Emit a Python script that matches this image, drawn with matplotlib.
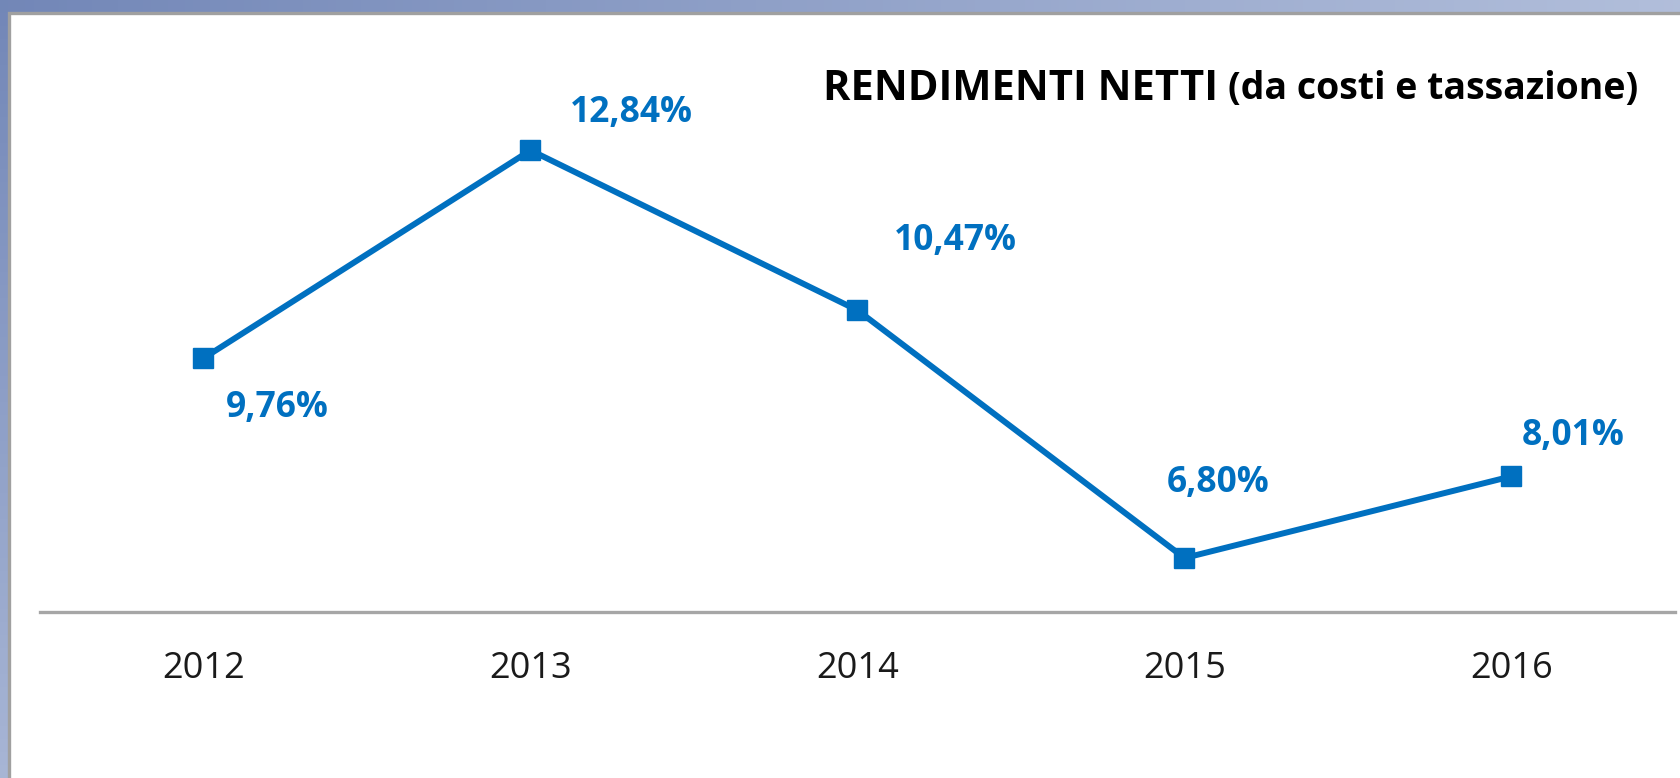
import numpy as np
import matplotlib
matplotlib.use("Agg")
import matplotlib.pyplot as plt
from matplotlib.patches import Rectangle

years = ["2012", "2013", "2014", "2015", "2016"]
returns = [9.76, 12.84, 10.47, 6.80, 8.01]
labels = ["9,76%", "12,84%", "10,47%", "6,80%", "8,01%"]
title_bold = "RENDIMENTI NETTI"
title_rest = "(da costi e tassazione)"

# label offsets in pixels (left edge of text, vertical centre) relative to the point
label_offsets = [(22, -50), (39, 37), (36, 69), (-18, 75), (10, 40)]

W, H = 1681, 778
fig = plt.figure(figsize=(W / 100, H / 100), dpi=100)

# background gradient strip (blue) behind the white panel
bg = fig.add_axes([0, 0, 1, 1])
gx = np.linspace(0, 1, 200)
gy = np.linspace(0, 1, 60)
X, Y = np.meshgrid(gx, gy)
c1 = np.array([0.45, 0.53, 0.72])
c2 = np.array([0.86, 0.89, 0.95])
t = np.clip(0.6 * X + 0.5 * Y, 0, 1)[..., None]
img = c1 * (1 - t) + c2 * t
bg.imshow(img, aspect="auto", extent=[0, 1, 0, 1], origin="upper")
bg.set_xlim(0, 1)
bg.set_ylim(0, 1)
bg.axis("off")

# white panel with grey border
px0 = 9 / W
ph = (H - 13) / H
bg.add_patch(Rectangle((px0, -0.01), 1.0, ph + 0.01, facecolor="white",
                       edgecolor="#a0a0a0", linewidth=2.4, zorder=3,
                       transform=bg.transAxes))

ax = fig.add_axes([40 / W, (H - 612) / H, (1675 - 40) / W, (612 - 72) / H])
ax.set_facecolor("none")
x = np.arange(len(years))
blue = "#0070C0"
ax.plot(x, returns, color=blue, linewidth=4.3, marker="s", markersize=14,
        markerfacecolor=blue, markeredgecolor=blue, zorder=5)
ax.set_xlim(-0.5, len(years) - 0.5)
ax.set_ylim(6, 14)
ax.set_xticks(x)
ax.set_xticklabels(years, fontsize=26, fontfamily="Open Sans", color="#1a1a1a")
ax.tick_params(axis="x", length=0, pad=28)
ax.set_yticks([])
for s in ["top", "left", "right"]:
    ax.spines[s].set_visible(False)
ax.spines["bottom"].set_color("#a6a6a6")
ax.spines["bottom"].set_linewidth(2.4)

for xi, yi, lab, (dx, dy) in zip(x, returns, labels, label_offsets):
    ax.annotate(lab, (xi, yi), xytext=(dx, dy), textcoords="offset pixels",
                ha="left", va="center", fontsize=25.5, fontweight="bold",
                fontfamily="Open Sans", color=blue, zorder=6)

t1 = fig.text(823 / W, 1 - 89 / H, title_bold, fontsize=30, fontweight="bold",
              fontfamily="Open Sans", color="black", ha="left", va="center")
fig.canvas.draw()
bb = t1.get_window_extent()
fig.text((bb.x1 + 10) / W, 1 - 89 / H, title_rest, fontsize=27, fontweight="bold",
         fontfamily="Open Sans", color="black", ha="left", va="center")

fig.savefig("out.png", dpi=100)
